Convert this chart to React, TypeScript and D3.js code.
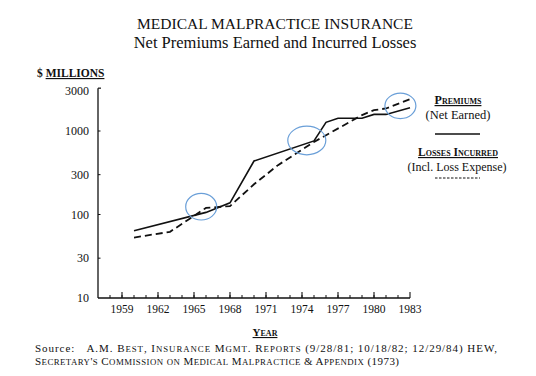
import React from "react";
import * as d3 from "d3";

const premiumYears = [1960, 1966, 1968, 1970, 1975, 1976, 1977, 1979, 1980, 1981, 1983];
const premiumValues = [64, 106, 138, 437, 760, 1270, 1420, 1420, 1580, 1580, 1900];

const lossYears = [1960, 1963, 1966, 1968, 1970, 1972, 1975, 1979, 1980, 1981, 1983];
const lossValues = [53, 62, 120, 126, 230, 390, 740, 1550, 1780, 1860, 2400];

const yearLabels = [1959, 1962, 1965, 1968, 1971, 1974, 1977, 1980, 1983];
const minorYears = d3.range(1958, 1983);
const valueTicks = [10, 30, 100, 300, 1000, 3000];

// highlight ellipses (annotations): centre year / value
const markYears = [1965.6, 1974.4, 1982.2];
const markValues = [124, 770, 2000];
const markRx = [15.5, 19, 15.5];
const markRy = [13.3, 14.3, 12.7];

const FONT = "'Liberation Serif', 'DejaVu Serif', serif";

// manual small caps: lowercase letters rendered as reduced capitals
function smallCaps(text: string, size: number, ratio = 0.8) {
  const parts: { t: string; small: boolean }[] = [];
  for (const ch of text) {
    const small = ch !== ch.toUpperCase();
    const last = parts[parts.length - 1];
    if (last && last.small === small) last.t += ch;
    else parts.push({ t: ch, small });
  }
  return parts.map((p, i) => (
    <tspan key={i} fontSize={p.small ? size * ratio : size}>
      {p.small ? p.t.toUpperCase() : p.t}
    </tspan>
  ));
}

export default function App() {
  const W = 536;
  const H = 376;
  const x = d3.scaleLinear().domain([1957, 1983]).range([98, 410]);
  const y = d3.scaleLog().domain([10, 1000]).range([298, 131]);

  const premiumLine = d3
    .line<number>()
    .x((_, i) => x(premiumYears[i]))
    .y((d) => y(d))(premiumValues) as string;
  const lossLine = d3
    .line<number>()
    .x((_, i) => x(lossYears[i]))
    .y((d) => y(d))(lossValues) as string;

  const axisTop = y(3000) - 3;
  const x0 = x(1957);
  const yBase = y(10);

  return (
    <svg
      width={W}
      height={H}
      style={{ position: "absolute", left: 0, top: 0, background: "#fff" }}
      fontFamily={FONT}
    >
      <rect x={0} y={0} width={W} height={H} fill="#fff" />
      {/* titles */}
      <text x={275} y={29} textAnchor="middle" fontSize={15.5} fill="#111">
        MEDICAL MALPRACTICE INSURANCE
      </text>
      <text x={275} y={48} textAnchor="middle" fontSize={16.5} fill="#111">
        Net Premiums Earned and Incurred Losses
      </text>

      {/* y axis label */}
      <text x={37} y={77} fontSize={11.5} fontWeight="bold" fill="#111">
        ${" "}
        <tspan style={{ textDecoration: "underline" }}>MILLIONS</tspan>
      </text>

      {/* y axis */}
      <line x1={x0} x2={x0} y1={axisTop} y2={yBase} stroke="#111" strokeWidth={1.3} />
      <line x1={x0} x2={x0 + 3} y1={axisTop} y2={axisTop} stroke="#111" strokeWidth={1.2} />
      {valueTicks.map((v) => (
        <g key={v}>
          {v !== 10 && v !== 3000 && (
            <line x1={x0} x2={x0 + 2.5} y1={y(v)} y2={y(v)} stroke="#111" strokeWidth={1} />
          )}
          <text
            x={89}
            y={y(v)}
            dy="0.35em"
            textAnchor="end"
            fontSize={12}
            fill="#111"
          >
            {v}
          </text>
        </g>
      ))}

      {/* x axis */}
      <line x1={x0} x2={x(1983)} y1={yBase} y2={yBase} stroke="#111" strokeWidth={1.3} />
      {minorYears.map((yr) => (
        <line
          key={yr}
          x1={x(yr)}
          x2={x(yr)}
          y1={yBase}
          y2={yBase - 3}
          stroke="#111"
          strokeWidth={1}
        />
      ))}
      {yearLabels.map((yr) => (
        <g key={yr}>
          <line x1={x(yr)} x2={x(yr)} y1={yBase} y2={yBase - 6} stroke="#111" strokeWidth={1.1} />
          <text x={x(yr)} y={313} textAnchor="middle" fontSize={11.5} fill="#111">
            {yr}
          </text>
        </g>
      ))}
      <text
        x={265}
        y={336}
        textAnchor="middle"
        fontSize={11}
        fontWeight="bold"
        fill="#111"
        style={{ fontVariant: "small-caps", textDecoration: "underline" }}
      >
        Year
      </text>

      {/* series */}
      <path d={premiumLine} fill="none" stroke="#111" strokeWidth={1.6} />
      <path d={lossLine} fill="none" stroke="#111" strokeWidth={1.8} strokeDasharray="7,4" />

      {/* annotation circles */}
      {markYears.map((yr, i) => (
        <ellipse
          key={yr}
          cx={x(yr)}
          cy={y(markValues[i])}
          rx={markRx[i]}
          ry={markRy[i]}
          fill="none"
          stroke="#6a9fd8"
          strokeWidth={1.2}
        />
      ))}

      {/* legend */}
      <text
        x={458}
        y={104}
        textAnchor="middle"
        fontSize={12}
        fontWeight="bold"
        fill="#111"
        style={{ fontVariant: "small-caps", textDecoration: "underline" }}
      >
        Premiums
      </text>
      <text x={458} y={119} textAnchor="middle" fontSize={12.5} fill="#111">
        (Net Earned)
      </text>
      <line x1={435} x2={480} y1={134} y2={134} stroke="#111" strokeWidth={1.4} />
      <text
        x={458}
        y={156}
        textAnchor="middle"
        fontSize={11.5}
        fontWeight="bold"
        fill="#111"
        style={{ fontVariant: "small-caps", textDecoration: "underline" }}
      >
        Losses Incurred
      </text>
      <text x={457} y={170.5} textAnchor="middle" fontSize={12} fill="#111">
        (Incl. Loss Expense)
      </text>
      <line
        x1={435}
        x2={480}
        y1={178}
        y2={178}
        stroke="#111"
        strokeWidth={1}
        strokeDasharray="2.5,1.5"
      />

      {/* source */}
      <text x={35} y={352} fontSize={11} fill="#111" textLength={462} lengthAdjust="spacing">
        Source:{"\u00a0\u00a0\u00a0"}
        {smallCaps("A.M. Best, Insurance Mgmt. Reports (9/28/81; 10/18/82; 12/29/84) HEW,", 11)}
      </text>
      <text x={35} y={364.5} fontSize={11} fill="#111" textLength={364} lengthAdjust="spacing">
        {smallCaps("Secretary's Commission on Medical Malpractice & Appendix (1973)", 11)}
      </text>
    </svg>
  );
}
